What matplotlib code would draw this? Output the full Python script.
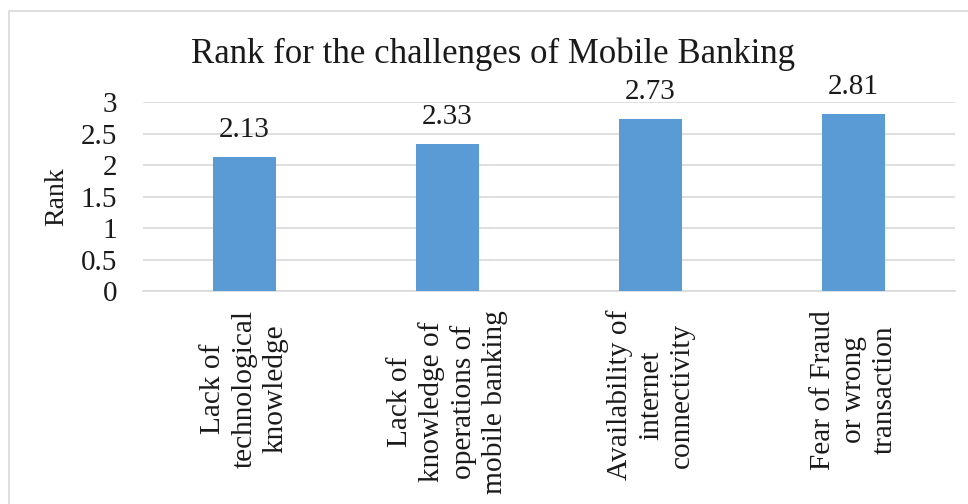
import matplotlib
matplotlib.use("Agg")
import matplotlib.pyplot as plt
from matplotlib.patches import Rectangle

# challenge categories and their mean rank
challenges = [
    "Lack of\ntechnological\nknowledge",
    "Lack of\nknowledge of\noperations of\nmobile banking",
    "Availability of\ninternet\nconnectivity",
    "Fear of Fraud\nor wrong\ntransaction",
]
ranks = [2.13, 2.33, 2.73, 2.81]
yticks = [0, 0.5, 1, 1.5, 2, 2.5, 3]
ytick_labels = ["0", "0.5", "1", "1.5", "2", "2.5", "3"]

BAR_COLOR = "#5B9BD5"
GRID_COLOR = "#D9D9D9"
TEXT_COLOR = "#1a1a1a"

plt.rcParams["font.family"] = ["Liberation Serif", "DejaVu Serif"]

fig = plt.figure(figsize=(9.68, 5.04), dpi=100)
ax = fig.add_axes([0.1477, 0.4226, 0.8389, 0.375])

x = range(len(challenges))
bars = ax.bar(x, ranks, width=0.315, color=BAR_COLOR, zorder=3)

for xi, val in zip(x, ranks):
    ax.annotate(f"{val:.2f}", xy=(xi, val), xytext=(0, 10), textcoords="offset points",
                ha="center", va="bottom", fontsize=21, color=TEXT_COLOR)

ax.set_xlim(-0.5, len(challenges) - 0.5)
ax.set_ylim(0, 3)
ax.set_yticks(yticks)
ax.set_yticklabels(ytick_labels, fontsize=21, color=TEXT_COLOR)
ax.set_xticks(list(x))
ax.set_xticklabels(challenges, rotation=90, ha="center", va="top", multialignment="center",
                   fontsize=21.2, color=TEXT_COLOR, linespacing=1.25)
ax.tick_params(axis="both", length=0)
ax.tick_params(axis="y", pad=18.5)
ax.tick_params(axis="x", pad=13.5)

ax.grid(axis="y", color=GRID_COLOR, linewidth=1.2, zorder=0)
for side in ["top", "right", "left"]:
    ax.spines[side].set_visible(False)
ax.spines["bottom"].set_color(GRID_COLOR)
ax.spines["bottom"].set_linewidth(1.2)

fig.text(0.0589, 0.609, "Rank", rotation=90, ha="center", va="center", fontsize=20, color=TEXT_COLOR)
fig.text(0.509, 0.875, "Rank for the challenges of Mobile Banking", ha="center", va="baseline",
         fontsize=25, color=TEXT_COLOR)

# chart frame (runs off the right and bottom edges)
fig.patches.append(Rectangle((9 / 968, -0.05), 1.0, 1 - 11 / 504 + 0.05, transform=fig.transFigure,
                             fill=False, edgecolor=GRID_COLOR, linewidth=1.2))

fig.savefig("out.png", dpi=100)
